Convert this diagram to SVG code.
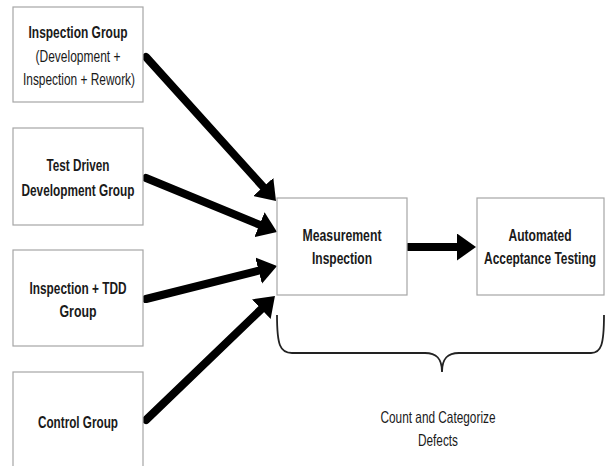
<svg xmlns="http://www.w3.org/2000/svg" width="606" height="466" viewBox="0 0 606 466">
<defs>
<style>
.box{fill:#fff;stroke:#a6a6a6;stroke-width:1.2}
.t{font-family:"Liberation Sans",Arial,sans-serif;font-size:16.5px;font-weight:bold;fill:#1a1a1a;text-anchor:middle}
.tn{font-weight:normal}
.arr{stroke:#000;stroke-width:8;stroke-linecap:round;fill:none;marker-end:url(#head)}
.brace{fill:none;stroke:#222;stroke-width:1.8}
</style>
<marker id="head" markerUnits="userSpaceOnUse" markerWidth="19" markerHeight="27" viewBox="0 0 19 27" refX="6" refY="13.5" orient="auto">
<path d="M0,0 L19,13.5 L0,27 z" fill="#000"/>
</marker>
</defs>
<rect width="606" height="466" fill="#fff"/>
<g id="connectors">
<line class="arr" x1="146" y1="57" x2="267.3" y2="191.4"/>
<line class="arr" x1="146" y1="178" x2="265" y2="227"/>
<line class="arr" x1="146" y1="299" x2="264.4" y2="269.2"/>
<line class="arr" x1="146" y1="420" x2="265.6" y2="305"/>
<line class="arr" x1="408" y1="247" x2="463" y2="247"/>
</g>
<g id="inspection-group">
<rect class="box" x="13" y="7" width="130" height="95"/>
<text class="t" x="78" y="38" textLength="99" lengthAdjust="spacingAndGlyphs">Inspection Group</text>
<text class="t tn" x="78" y="62" textLength="85" lengthAdjust="spacingAndGlyphs">(Development +</text>
<text class="t tn" x="79" y="85" textLength="112" lengthAdjust="spacingAndGlyphs">Inspection + Rework)</text>
</g>
<g id="tdd-group">
<rect class="box" x="13" y="128" width="130" height="97"/>
<text class="t" x="78" y="171" textLength="63" lengthAdjust="spacingAndGlyphs">Test Driven</text>
<text class="t" x="78" y="196" textLength="113" lengthAdjust="spacingAndGlyphs">Development Group</text>
</g>
<g id="inspection-tdd-group">
<rect class="box" x="13" y="250" width="130" height="96"/>
<text class="t" x="78" y="294" textLength="97" lengthAdjust="spacingAndGlyphs">Inspection + TDD</text>
<text class="t" x="78" y="317" textLength="37" lengthAdjust="spacingAndGlyphs">Group</text>
</g>
<g id="control-group">
<rect class="box" x="13" y="372" width="130" height="100"/>
<text class="t" x="78" y="428" textLength="80" lengthAdjust="spacingAndGlyphs">Control Group</text>
</g>
<g id="measurement-inspection">
<rect class="box" x="277" y="198" width="130" height="97"/>
<text class="t" x="342" y="241" textLength="79" lengthAdjust="spacingAndGlyphs">Measurement</text>
<text class="t" x="342" y="264" textLength="60" lengthAdjust="spacingAndGlyphs">Inspection</text>
</g>
<g id="automated-acceptance-testing">
<rect class="box" x="477" y="198" width="127" height="97"/>
<text class="t" x="540" y="241" textLength="63" lengthAdjust="spacingAndGlyphs">Automated</text>
<text class="t" x="540" y="264" textLength="112" lengthAdjust="spacingAndGlyphs">Acceptance Testing</text>
</g>
<g id="count-defects">
<path class="brace" d="M277,315 C277,345 280,353 292,353 L425,353 C436,353 442,358 442,372 C442,358 448,353 459,353 L591,353 C601,353 604,345 604,315"/>
<text class="t tn" x="438" y="423" textLength="115" lengthAdjust="spacingAndGlyphs">Count and Categorize</text>
<text class="t tn" x="438" y="446" textLength="40" lengthAdjust="spacingAndGlyphs">Defects</text>
</g>
</svg>
